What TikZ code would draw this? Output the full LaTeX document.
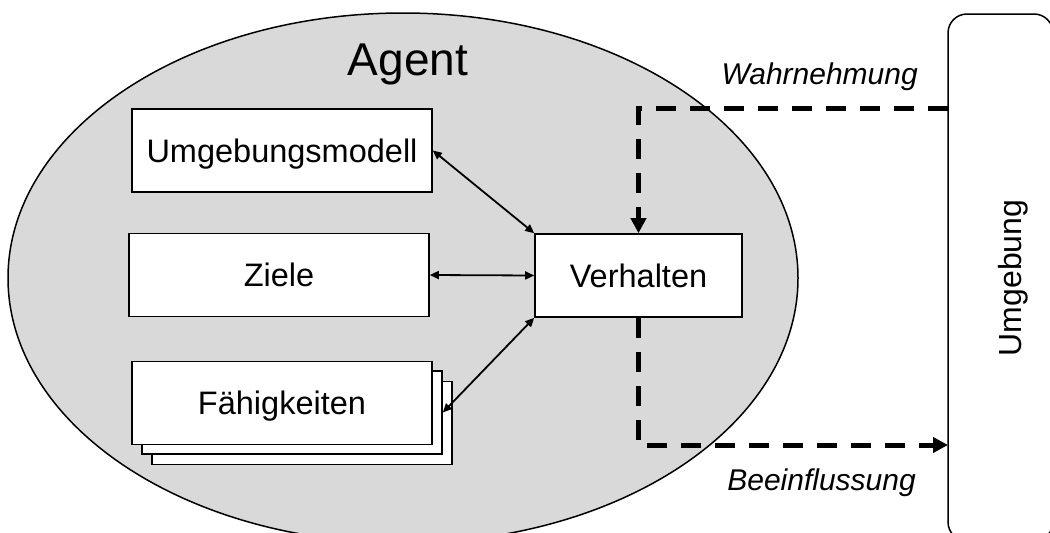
\documentclass[tikz,border=0pt]{standalone}
\usepackage{fontspec}
\setmainfont{Liberation Sans}
\usetikzlibrary{arrows.meta,shapes.geometric}
\definecolor{agentgray}{RGB}{217,217,217}
\begin{document}
\begin{tikzpicture}[x=1pt,y=-1pt,
  box/.style={draw, fill=white, line width=1.6pt, minimum width=300pt,
    minimum height=83pt, inner sep=0pt, font=\fontsize{32.5}{39}\selectfont,
    text height=23.3pt, text depth=0pt},
  dbl/.style={line width=1.8pt, {Triangle[length=9pt,width=8pt]}-{Triangle[length=9pt,width=8pt]}},
  flow/.style={line width=5pt, dash pattern=on 20pt off 14pt,
    -{Triangle[length=15pt,width=15pt]}},
  lbl/.style={font=\fontsize{30}{36}\selectfont\itshape, inner sep=0pt}]
\useasboundingbox (0,0) rectangle (1050,533);

% agent body
\node[draw, line width=1.5pt, fill=agentgray, ellipse, minimum width=790pt,
  minimum height=530pt, inner sep=0pt] (agent) at (403,278) {};
\node[font=\fontsize{46}{54}\selectfont, anchor=base, inner sep=0pt]
  (agenttitle) at (408,75) {Agent};

% environment
\node[draw, line width=1.5pt, rounded corners=19pt, minimum width=105pt,
  minimum height=527pt, inner sep=0pt] (umw) at (1000.5,277.5) {};
\node[font=\fontsize{32}{38}\selectfont, rotate=90, anchor=base, inner sep=0pt]
  (umwtext) at (1021,278) {Umgebung};

% internal components
\node[box] (umod) at (282,150.5) {Umgebungsmodell};
\node[box] (ziele) at (279,275) {Ziele};
\node[box] (f3) at (302,423) {};
\node[box] (f2) at (292,412.5) {};
\node[box] (f1) at (282,403) {Fähigkeiten};
\node[box, minimum width=207pt] (verh) at (638.5,275.5) {Verhalten};

\draw[dbl] (umod.east) -- (verh.north west);
\draw[dbl] (ziele.east) -- (verh.west);
\draw[dbl] (f2.east) -- (verh.south west);

% perception and action
\coordinate (pin) at (948,108);
\coordinate (pout) at (948,445);
\draw[flow] (pin) -| (verh.north);
\draw[flow] (verh.south) |- (pout);

\node[lbl, anchor=base east] (wahr) at (918,84) {Wahrnehmung};
\node[lbl, anchor=base east] (beein) at (916,490) {Beeinflussung};
\end{tikzpicture}
\end{document}
